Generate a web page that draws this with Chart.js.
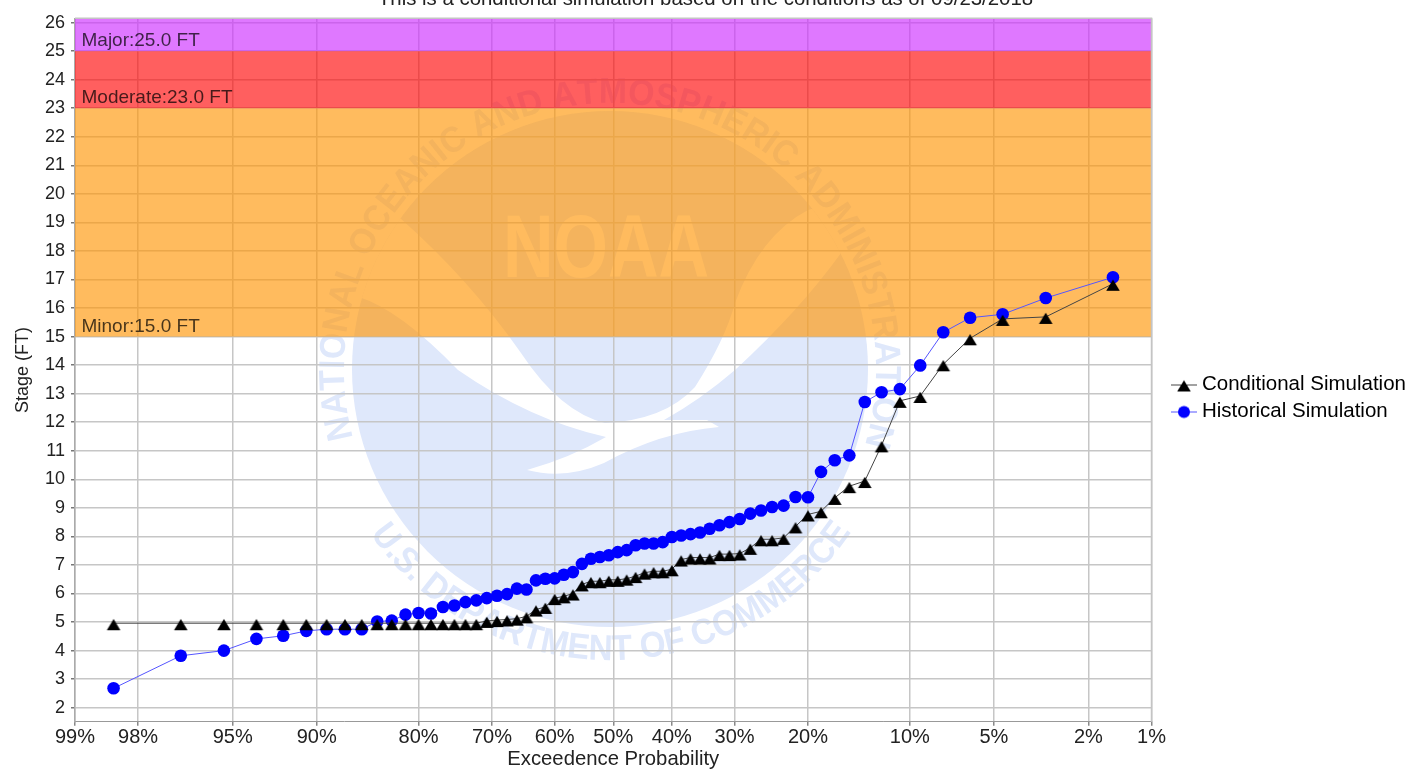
<!DOCTYPE html>
<html>
<head>
<meta charset="utf-8">
<script src="https://cdn.jsdelivr.net/npm/chart.js@4/dist/chart.umd.js"></script>
<style>
    html, body { margin: 0; padding: 0; background: #fff; overflow: hidden; }
    #wrap { position: absolute; left: 0; top: -16px; width: 1421px; height: 799px; }
</style>
</head>
<body>
<div id="wrap"><canvas id="myChart"></canvas></div>
<script>
const exceedance = [98.46, 96.92, 95.38, 93.85, 92.31, 90.77, 89.23, 87.69, 86.15, 84.62, 83.08, 81.54, 80, 78.46, 76.92, 75.38,
    73.85, 72.31, 70.77, 69.23, 67.69, 66.15, 64.62, 63.08, 61.54, 60, 58.46, 56.92, 55.38, 53.85, 52.31, 50.77,
    49.23, 47.69, 46.15, 44.62, 43.08, 41.54, 40, 38.46, 36.92, 35.38, 33.85, 32.31, 30.77, 29.23, 27.69, 26.15,
    24.62, 23.08, 21.54, 20, 18.46, 16.92, 15.38, 13.85, 12.31, 10.77, 9.23, 7.69, 6.15, 4.62, 3.08, 1.54];
const conditional = [4.96, 4.96, 4.96, 4.96, 4.96, 4.96, 4.96, 4.96, 4.96, 4.96, 4.96, 4.96, 4.96, 4.96, 4.96, 4.96,
    4.96, 4.96, 5.04, 5.07, 5.09, 5.12, 5.2, 5.44, 5.53, 5.84, 5.9, 6.0, 6.32, 6.43, 6.43, 6.48,
    6.48, 6.52, 6.61, 6.73, 6.78, 6.78, 6.85, 7.19, 7.26, 7.26, 7.26, 7.38, 7.38, 7.4, 7.6, 7.9,
    7.9, 7.95, 8.35, 8.77, 8.88, 9.35, 9.76, 9.94, 11.19, 12.75, 12.92, 14.03, 14.94, 15.62, 15.69, 16.85];
const historical = [2.68, 3.82, 4.0, 4.41, 4.52, 4.69, 4.75, 4.75, 4.75, 5.02, 5.05, 5.26, 5.32, 5.3, 5.53, 5.58,
    5.7, 5.76, 5.84, 5.92, 5.98, 6.17, 6.14, 6.46, 6.52, 6.53, 6.66, 6.75, 7.04, 7.22, 7.28, 7.34,
    7.45, 7.52, 7.69, 7.75, 7.75, 7.8, 7.98, 8.03, 8.08, 8.14, 8.27, 8.39, 8.5, 8.61, 8.8, 8.91,
    9.03, 9.08, 9.38, 9.37, 10.26, 10.67, 10.84, 12.71, 13.05, 13.16, 13.99, 15.15, 15.66, 15.78, 16.35, 17.08];

const xTicks = [99, 98, 95, 90, 80, 70, 60, 50, 40, 30, 20, 10, 5, 2, 1];
const yTicks = [2, 3, 4, 5, 6, 7, 8, 9, 10, 11, 12, 13, 14, 15, 16, 17, 18, 19, 20, 21, 22, 23, 24, 25, 26];

const bandNames = ['Minor', 'Moderate', 'Major'];
const bandFrom = [15, 23, 25];
const bandTo = [23, 25, 26.15];
const bandColors = ['rgba(255,150,8,0.65)', 'rgba(255,9,9,0.65)', 'rgba(206,48,255,0.65)'];

const FONT = '"Liberation Sans", Arial, sans-serif';
const pageTop = 16; // the canvas hangs above the page so the title gets cut off

// inverse normal cdf (Acklam)
function probit(p) {
    const a = [-3.969683028665376e+01, 2.209460984245205e+02, -2.759285104469687e+02, 1.383577518672690e+02, -3.066479806614716e+01, 2.506628277459239e+00];
    const b = [-5.447609879822406e+01, 1.615858368580409e+02, -1.556989798598866e+02, 6.680131188771972e+01, -1.328068155288572e+01];
    const c = [-7.784894002430293e-03, -3.223964580411365e-01, -2.400758277161838e+00, -2.549732539343734e+00, 4.374664141464968e+00, 2.938163982698783e+00];
    const d = [7.784695709041462e-03, 3.224671290700398e-01, 2.445134137142996e+00, 3.754408661907416e+00];
    const tail = (q) => (((((c[0]*q+c[1])*q+c[2])*q+c[3])*q+c[4])*q+c[5]) / ((((d[0]*q+d[1])*q+d[2])*q+d[3])*q+1);
    if (p < 0.02425) return tail(Math.sqrt(-2 * Math.log(p)));
    if (p > 1 - 0.02425) return -tail(Math.sqrt(-2 * Math.log(1 - p)));
    const q = p - 0.5, r = q * q;
    return (((((a[0]*r+a[1])*r+a[2])*r+a[3])*r+a[4])*r+a[5])*q / (((((b[0]*r+b[1])*r+b[2])*r+b[3])*r+b[4])*r+1);
}

// normal probability axis
class ProbabilityScale extends Chart.LinearScale {
    buildTicks() {
        return xTicks.map(v => ({ value: v }));
    }
    getPixelForValue(value) {
        const lo = probit(this.min / 100), hi = probit(this.max / 100);
        return this.getPixelForDecimal((probit(value / 100) - lo) / (hi - lo));
    }
}
ProbabilityScale.id = 'probability';
ProbabilityScale.defaults = Chart.LinearScale.defaults;
Chart.register(ProbabilityScale);

function arcText(ctx, text, cx, cy, radius, midAngle, span, inward) {
    const total = ctx.measureText(text).width;
    const k = span * radius / total;
    let run = 0;
    for (const ch of text) {
        const w = ctx.measureText(ch).width;
        const off = ((run + w / 2) / total - 0.5) * span;
        const ang = inward ? midAngle + off : midAngle - off;
        ctx.save();
        ctx.translate(cx + Math.cos(ang) * radius, cy + Math.sin(ang) * radius);
        ctx.rotate(inward ? ang + Math.PI / 2 : ang - Math.PI / 2);
        ctx.scale(k, 1);
        ctx.fillText(ch, 0, 0);
        ctx.restore();
        run += w;
    }
}

const watermark = {
    id: 'watermark',
    beforeDraw(chart) {
        const ctx = chart.ctx;
        const blue = '#dfe8fb';
        const cx = 610, cy = 369, r = 258;
        ctx.save();
        ctx.translate(0, pageTop);

        ctx.save();
        ctx.beginPath();
        ctx.arc(cx, cy, r, 0, Math.PI * 2);
        ctx.clip();
        ctx.fillStyle = blue;
        ctx.fillRect(cx - r, cy - r, r * 2, r * 2);
        // the white bird
        ctx.fillStyle = '#fff';
        ctx.beginPath();
        ctx.moveTo(400, 218);
        ctx.quadraticCurveTo(470, 280, 521, 353);
        ctx.quadraticCurveTo(560, 412, 605, 423);
        ctx.quadraticCurveTo(665, 420, 695, 387);
        ctx.quadraticCurveTo(725, 340, 735, 303);
        ctx.quadraticCurveTo(760, 235, 808, 210);
        ctx.lineTo(880, 190);
        ctx.lineTo(880, 240);
        ctx.lineTo(841, 253);
        ctx.quadraticCurveTo(800, 310, 735, 370);
        ctx.quadraticCurveTo(700, 400, 664, 420);
        ctx.lineTo(707, 420);
        ctx.lineTo(719, 427);
        ctx.quadraticCurveTo(660, 432, 604, 463);
        ctx.quadraticCurveTo(565, 480, 527, 470);
        ctx.quadraticCurveTo(570, 458, 606, 437);
        ctx.quadraticCurveTo(530, 420, 458, 370);
        ctx.quadraticCurveTo(400, 310, 359, 297);
        ctx.lineTo(340, 300);
        ctx.lineTo(340, 200);
        ctx.closePath();
        ctx.fill();
        ctx.restore();

        // NOAA letters on the upper part of the disc
        ctx.save();
        ctx.fillStyle = '#fff';
        ctx.font = 'bold 80px ' + FONT;
        ctx.textAlign = 'left';
        ctx.textBaseline = 'alphabetic';
        const w = ctx.measureText('NOAA').width;
        ctx.translate(503, 277);
        ctx.scale(206 / w, 63 / 57);
        ctx.fillText('NOAA', 0, 0);
        ctx.restore();

        // ring text
        ctx.fillStyle = blue;
        ctx.font = 'bold 36px ' + FONT;
        ctx.textAlign = 'center';
        ctx.textBaseline = 'alphabetic';
        arcText(ctx, 'NATIONAL OCEANIC AND ATMOSPHERIC ADMINISTRATION', cx, cy, 266, -Math.PI / 2, 210 * Math.PI / 180, true);
        arcText(ctx, 'U.S. DEPARTMENT OF COMMERCE', cx, cy, 291, Math.PI / 2, 111 * Math.PI / 180, false);
        ctx.restore();
    }
};

const floodBands = {
    id: 'floodBands',
    afterLayout(chart) {
        // where the original puts the title and legend
        chart.titleBlock.left = 0;
        chart.titleBlock.right = 1411;
        const legend = chart.legend;
        const w = legend.right - legend.left;
        legend.left = 1169.75;
        legend.right = legend.left + w;
        const shift = 398 + pageTop - (legend.top + legend.bottom) / 2;
        legend.top += shift;
        legend.bottom += shift;
    },
    beforeDatasetsDraw(chart) {
        const { ctx, chartArea: area, scales: { y } } = chart;
        ctx.save();
        bandNames.forEach((name, i) => {
            const top = y.getPixelForValue(bandTo[i]);
            const bottom = y.getPixelForValue(bandFrom[i]);
            ctx.fillStyle = bandColors[i];
            ctx.fillRect(area.left, top, area.right - area.left, bottom - top);
        });
        ctx.fillStyle = 'rgba(0,0,0,0.72)';
        ctx.font = '19px ' + FONT;
        ctx.textAlign = 'left';
        ctx.textBaseline = 'alphabetic';
        bandNames.forEach((name, i) => {
            ctx.fillText(name + ':' + bandFrom[i].toFixed(1) + ' FT', area.left + 6.5, y.getPixelForValue(bandFrom[i]) - 5);
        });
        // frame
        ctx.strokeStyle = '#c4c4c4';
        ctx.lineWidth = 1.5;
        ctx.beginPath();
        ctx.moveTo(area.left, area.top);
        ctx.lineTo(area.right, area.top);
        ctx.lineTo(area.right, area.bottom);
        ctx.stroke();
        ctx.restore();
    }
};

// triangle sits a little below its point in the original
function triangleMark() {
    const c = document.createElement('canvas');
    c.width = 16; c.height = 16;
    const g = c.getContext('2d');
    g.fillStyle = '#000';
    g.beginPath();
    g.moveTo(8, 3.8); g.lineTo(14.8, 14.9); g.lineTo(1.2, 14.9); g.closePath();
    g.fill();
    return c;
}

// legend swatch: marker with a short line through it
function swatch(style, color) {
    const c = document.createElement('canvas');
    c.width = 26; c.height = 16;
    const g = c.getContext('2d');
    g.strokeStyle = color === '#000000' ? '#444' : '#5555ff';
    g.beginPath(); g.moveTo(0, 8.5); g.lineTo(26, 8.5); g.stroke();
    g.fillStyle = color;
    if (style === 'triangle') {
        g.drawImage(triangleMark(), 5, 0);
    } else {
        g.beginPath();
        g.arc(13, 8.5, 6, 0, Math.PI * 2);
        g.fill();
    }
    return c;
}

new Chart(document.getElementById('myChart'), {
    type: 'line',
    data: {
        datasets: [{
            label: 'Conditional Simulation',
            data: exceedance.map((x, i) => ({ x: x, y: conditional[i] })),
            borderColor: '#444444',
            borderWidth: 1,
            pointStyle: triangleMark(),
            pointRadius: 7.5,
            tension: 0
        }, {
            label: 'Historical Simulation',
            data: exceedance.map((x, i) => ({ x: x, y: historical[i] })),
            borderColor: '#5555ff',
            borderWidth: 1,
            pointStyle: 'circle',
            pointRadius: 6.3,
            pointBackgroundColor: '#0000ff',
            pointBorderColor: '#0000ff',
            pointBorderWidth: 0,
            tension: 0
        }]
    },
    options: {
        responsive: true,
        maintainAspectRatio: false,
        animation: false,
        layout: { padding: { left: 0, right: 23.25, top: 0, bottom: 11 } },
        plugins: {
            title: {
                display: true,
                text: 'This is a conditional simulation based on the conditions as of 09/23/2018',
                color: '#222',
                font: { family: FONT, size: 20.4, weight: 'normal' },
                padding: { top: 3, bottom: 6.8 }
            },
            legend: {
                position: 'right',
                labels: {
                    color: '#222',
                    font: { family: FONT, size: 20.5 },
                    usePointStyle: true,
                    pointStyleWidth: 15.5,
                    padding: 6.5,
                    generateLabels(chart) {
                        return [
                            { text: 'Conditional Simulation', pointStyle: swatch('triangle', '#000000'), datasetIndex: 0, hidden: false, lineWidth: 0, strokeStyle: 'transparent', fillStyle: '#000' },
                            { text: 'Historical Simulation', pointStyle: swatch('circle', '#0000ff'), datasetIndex: 1, hidden: false, lineWidth: 0, strokeStyle: 'transparent', fillStyle: '#00f' }
                        ];
                    }
                }
            },
            tooltip: { enabled: false }
        },
        scales: {
            x: {
                type: 'probability',
                reverse: true,
                min: 1,
                max: 99,
                afterFit(axis) { axis.height = 50.3; },
                grid: { color: '#c6c6c6', lineWidth: 1.5, tickColor: '#888', tickLength: 4 },
                border: { color: '#999', width: 1 },
                ticks: {
                    autoSkip: false,
                    maxRotation: 0,
                    color: '#222',
                    padding: 0,
                    font: { family: FONT, size: 20 },
                    callback: (v) => v + '%'
                },
                title: {
                    display: true,
                    text: 'Exceedence Probability',
                    color: '#222',
                    font: { family: FONT, size: 20.3 },
                    padding: { top: 2, bottom: 0 }
                }
            },
            y: {
                min: 1.51,
                max: 26.15,
                afterFit(axis) { axis.width = 75; },
                afterBuildTicks(axis) { axis.ticks = yTicks.map(v => ({ value: v })); },
                grid: { color: '#c6c6c6', lineWidth: 1.5, tickColor: '#777', tickLength: 4 },
                border: { color: '#aaa', width: 1.5 },
                ticks: {
                    autoSkip: false,
                    color: '#222',
                    padding: 6,
                    font: { family: FONT, size: 18 }
                },
                title: {
                    display: true,
                    text: 'Stage (FT)',
                    color: '#222',
                    font: { family: FONT, size: 18 },
                    padding: { top: 12, bottom: 0 }
                }
            }
        }
    },
    plugins: [watermark, floodBands]
});
</script>
</body>
</html>
